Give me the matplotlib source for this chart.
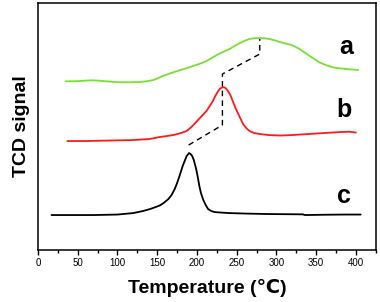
import numpy as np
import matplotlib.pyplot as plt

# TPR profiles (temperature in C, signal in arbitrary units)
temp_a = [35, 48, 58, 67, 76, 86, 96, 107, 118, 128, 137, 145, 151, 157, 165,
          174, 185, 195, 204, 212, 219, 226, 234, 241, 248, 254, 260, 266, 272,
          279, 285, 291, 298, 304, 311, 319, 324, 329, 335, 342, 348, 354, 362,
          371, 380, 388, 396, 403]
sig_a = [168.7, 168.8, 169.3, 169.7, 169.4, 168.7, 168.1, 167.7, 167.8, 168.0,
         168.8, 170.0, 171.8, 174.0, 176.3, 178.7, 181.4, 184.0, 186.4, 189.0,
         192.3, 195.5, 198.5, 201.0, 204.3, 207.0, 209.3, 211.0, 211.8, 212.0,
         211.7, 211.0, 209.7, 208.0, 206.6, 205.0, 203.2, 201.0, 197.8, 194.0,
         190.8, 187.7, 185.0, 182.7, 181.7, 181.0, 180.5, 180.0]

temp_b = [37, 60, 90, 120, 140, 153, 162, 170, 178, 187, 193, 199, 206, 212,
          216, 220, 223, 226, 229, 233, 236, 239, 242, 245, 248, 252, 255, 258,
          262, 266, 272, 279, 290, 305, 320, 340, 360, 380, 392, 400]
sig_b = [109, 109, 109.5, 110, 111, 113, 114, 115, 116.5, 119, 123, 128, 134,
         139, 144, 149, 154, 158, 161.5, 163, 162, 159, 155, 149, 143, 136, 131,
         126, 122, 119, 117, 116, 115, 114.5, 115, 116, 117, 118, 118.3, 117.5]

temp_c = [17, 40, 70, 100, 120, 132, 141, 148, 153, 158, 164, 168, 172, 175,
          178, 180, 182, 185, 187, 190, 192, 194, 196, 199, 201, 203, 205, 208,
          211, 214, 218, 222, 230, 240, 260, 290, 320, 333, 336, 360, 385, 406]
sig_c = [35, 35, 35, 35.5, 37, 39, 41, 43, 44.5, 47, 51, 55, 61, 67, 74, 79,
         84, 90, 94, 97, 96, 94, 90, 81, 73, 64, 57, 50, 45, 41, 39, 38, 37.5,
         37, 36.5, 36, 35.8, 35.7, 35, 35.3, 35.5, 35.5]

# dashed guide joining the peak maxima
guide_t = [189.5, 232, 232, 279, 279]
guide_s = [105, 125, 176, 196, 211]

labels = ['a', 'b', 'c']
label_t = [388, 385, 385]
label_s = [203, 140, 54]

plt.rcParams['font.family'] = ['Liberation Sans', 'DejaVu Sans', 'Noto Sans CJK SC']

fig = plt.figure(figsize=(3.8, 3.02), dpi=100)
ax = fig.add_axes([0.1, 0.172, 0.889, 0.818])

kw = dict(lw=1.3, solid_joinstyle='round', solid_capstyle='round')
ax.plot(temp_a, sig_a, color='#77e033', **kw)
ax.plot(temp_b, sig_b, color='#ff1a1a', **kw)
ax.plot(temp_c, sig_c, color='black', **kw)
ax.plot(guide_t, guide_s, color='black', lw=1.0, ls=(0, (4, 3)))

for lab, t, s in zip(labels, label_t, label_s):
    ax.text(t, s, lab, fontsize=18, fontweight='bold', ha='center', va='center')

ax.set_xlim(0, 425)
ax.set_ylim(0, 247)
ax.set_xticks(np.arange(0, 401, 50))
ax.set_xticks(np.arange(25, 426, 50), minor=True)
ax.set_yticks([])
ax.tick_params(axis='x', which='major', length=3.5, width=1, labelsize=7, pad=2)
ax.tick_params(axis='x', which='minor', length=2.5, width=1)
for sp in ax.spines.values():
    sp.set_linewidth(1.1)

ax.set_xlabel('Temperature (℃)', fontsize=14, fontweight='bold', labelpad=8)
ax.set_ylabel('TCD signal', fontsize=14, fontweight='bold', labelpad=6)

fig.savefig('out.png', dpi=100)
